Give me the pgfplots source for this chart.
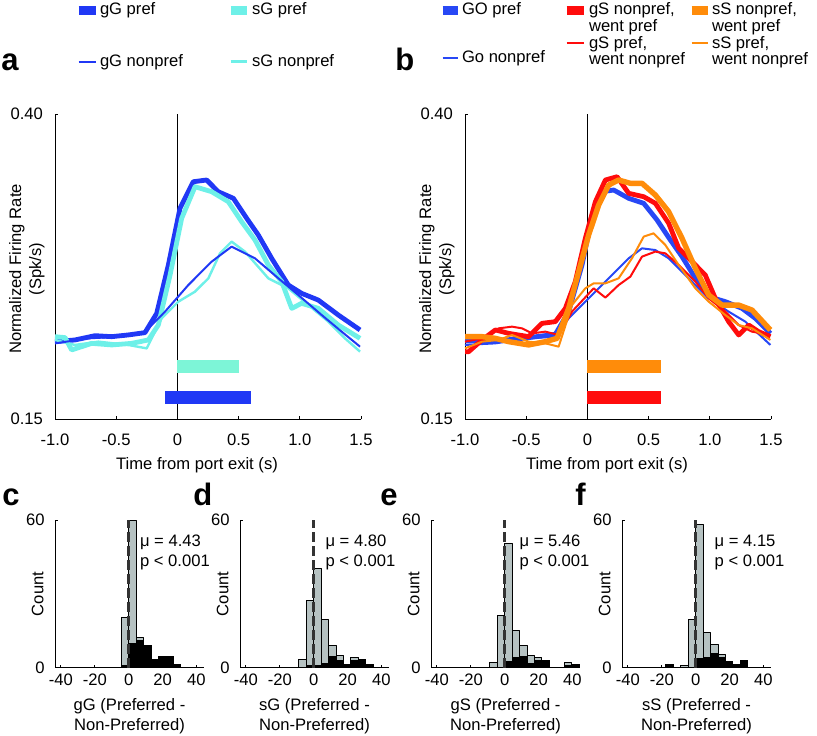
\documentclass[border=0pt]{standalone}
\usepackage{fontspec}
\setmainfont{Liberation Sans}
\usepackage{pgfplots}
\pgfplotsset{compat=1.18}
\definecolor{gblue}{RGB}{32,56,245}
\definecolor{bblue}{RGB}{40,72,245}
\definecolor{scyan}{RGB}{110,240,232}
\definecolor{mint}{RGB}{125,245,215}
\definecolor{sred}{RGB}{255,12,12}
\definecolor{sorange}{RGB}{255,140,10}
\definecolor{hgray}{RGB}{182,194,194}
\newcommand\two[2]{\vtop{\baselineskip=8.2pt\hbox{#1}\hbox{#2}}}
\pgfplotsset{
  base/.style={scale only axis, clip=false, anchor=south west,
    axis x line*=bottom, axis y line*=left, tick align=inside,
    major tick length=1.5pt, axis line style={line width=0.5pt},
    tick style={line width=0.5pt, black}, enlargelimits=false,
    every axis plot/.append style={line join=round}},
  rate/.style={base, width=153pt, height=152.5pt, xmin=-1, xmax=1.5, ymin=0.15, ymax=0.40,
    xtick={-1,-0.5,0,0.5,1,1.5}, xticklabels={-1.0,-0.5,0,0.5,1.0,1.5},
    ytick={0.15,0.40}, yticklabels={0.15,0.40},
    xticklabel style={yshift=-4.5pt}, yticklabel style={xshift=-3.1pt},
    xlabel={Time from port exit (s)},
    xlabel style={at={(axis description cs:0.464,-0.125)}, anchor=north, inner sep=0pt},
    ylabel={Normalized Firing Rate\\(Spk/s)},
    ylabel style={at={(axis description cs:-0.033,0.492)}, anchor=south, inner sep=0pt, align=center}},
  legaxis/.style={scale only axis, anchor=south west, hide axis, width=153pt, height=152.5pt,
    xmin=0, xmax=1, ymin=0, ymax=1,
    legend style={draw=none, fill=none, inner sep=0pt, outer sep=0pt, anchor=north west,
      cells={anchor=base west}, nodes={inner sep=0pt}}},
  hist/.style={base, width=74.5pt, height=73.85pt, xmin=-43.5, xmax=44.5, ymin=0, ymax=60,
    xtick={-40,-20,0,20,40}, xticklabels={-40,-20,0,20,40},
    ytick={0,60}, yticklabels={0,60}, yticklabel style={xshift=-2.2pt},
    xlabel style={at={(axis description cs:0.5,-0.205)}, anchor=north, inner sep=0pt, align=center},
    ylabel={Count},
    ylabel style={at={(axis description cs:-0.074,0.5)}, anchor=south, inner sep=0pt}},
  gbar/.style={ybar interval, fill=hgray, draw=black, line width=0.5pt, forget plot},
  kbar/.style={ybar interval, fill=black, draw=black, line width=0.5pt, forget plot},
  zline/.style={black!80, dash pattern=on 5pt off 2pt, line width=1.3pt, forget plot},
  pref/.style={line width=2.4pt, forget plot},
  npref/.style={line width=1pt, forget plot},
}
\begin{document}
\fontsize{8.3}{10}\selectfont
\begin{tikzpicture}
\useasboundingbox (0,0) rectangle (408.5pt,367.5pt);
% ---------------- panel a legends (two columns)
\begin{axis}[legaxis, at={(27.5pt,158pt)},
  legend image code/.code={\draw[#1] (0pt,2.4pt) -- (8.5pt,2.4pt);},
  legend style={at={(axis description cs:0.0621,1.364)}, row sep=18.5pt,
    /tikz/every odd column/.append style={column sep=0pt}}]
\addlegendimage{gblue, line width=4.5pt}\addlegendentry{gG pref}
\addlegendimage{gblue, line width=1pt}\addlegendentry{gG nonpref}
\end{axis}
\begin{axis}[legaxis, at={(27.5pt,158pt)},
  legend image code/.code={\draw[#1] (0pt,2.4pt) -- (8pt,2.4pt);},
  legend style={at={(axis description cs:0.5588,1.364)}, row sep=18.5pt,
    /tikz/every odd column/.append style={column sep=0.5pt}}]
\addlegendimage{scyan, line width=4.5pt}\addlegendentry{sG pref}
\addlegendimage{scyan, line width=1.2pt}\addlegendentry{sG nonpref}
\end{axis}
% ---------------- panel a
\begin{axis}[rate, at={(27.5pt,158pt)}]
\addplot[black, line width=0.6pt, forget plot] coordinates {(0,0.15) (0,0.40)};
\addplot[gblue, pref] coordinates {
(-1.000,0.2134) (-0.837,0.2148) (-0.673,0.2183) (-0.537,0.2175) (-0.401,0.2189)
(-0.265,0.2208) (-0.169,0.2366) (-0.074,0.2762) (0.021,0.3227) (0.130,0.3445)
(0.239,0.3459) (0.334,0.3363) (0.457,0.3309) (0.566,0.3145) (0.661,0.3008)
(0.770,0.2817) (0.906,0.2598) (1.015,0.2530) (1.151,0.2475) (1.315,0.2352) (1.492,0.2230)};
\addplot[scyan, pref] coordinates {
(-1.000,0.2175) (-0.918,0.2167) (-0.864,0.2066) (-0.700,0.2120) (-0.537,0.2107)
(-0.374,0.2120) (-0.237,0.2148) (-0.156,0.2270) (-0.060,0.2680) (0.035,0.3145)
(0.144,0.3404) (0.280,0.3363) (0.416,0.3281) (0.525,0.3117) (0.634,0.2967)
(0.743,0.2762) (0.852,0.2626) (0.934,0.2407) (1.015,0.2448) (1.151,0.2407)
(1.315,0.2270) (1.492,0.2161)};
\addplot[scyan, npref, line width=1.2pt] coordinates {
(-1.000,0.2148) (-0.837,0.2107) (-0.646,0.2134) (-0.401,0.2107) (-0.251,0.2079)
(-0.129,0.2325) (0.008,0.2462) (0.144,0.2544) (0.253,0.2653) (0.348,0.2858)
(0.443,0.2954) (0.552,0.2872) (0.743,0.2653) (0.906,0.2571) (1.070,0.2434)
(1.233,0.2298) (1.369,0.2161) (1.492,0.2052)};
\addplot[gblue, npref] coordinates {
(-1.000,0.2120) (-0.728,0.2161) (-0.455,0.2175) (-0.265,0.2216) (-0.101,0.2380)
(0.089,0.2598) (0.280,0.2790) (0.443,0.2913) (0.634,0.2817) (0.825,0.2653)
(0.988,0.2516) (1.179,0.2352) (1.342,0.2216) (1.492,0.2093)};
\addplot[mint, line width=6.5pt, forget plot] coordinates {(0,0.1932) (0.5,0.1932)};
\addplot[gblue, line width=6.5pt, forget plot] coordinates {(-0.1,0.168) (0.6,0.168)};
\end{axis}
% ---------------- panel b legends (three columns)
\begin{axis}[legaxis, at={(232.5pt,158pt)},
  legend image code/.code={\draw[#1] (0pt,2.4pt) -- (7.5pt,2.4pt);},
  legend style={at={(axis description cs:-0.0882,1.364)}, row sep=16.5pt,
    /tikz/every odd column/.append style={column sep=0pt}}]
\addlegendimage{bblue, line width=4.5pt}\addlegendentry{GO pref}
\addlegendimage{bblue, line width=1pt}\addlegendentry{Go nonpref}
\end{axis}
\begin{axis}[legaxis, at={(232.5pt,158pt)},
  legend image code/.code={\draw[#1] (0pt,2.4pt) -- (8.5pt,2.4pt);},
  legend style={at={(axis description cs:0.3170,1.364)}, row sep=9.3pt,
    /tikz/every odd column/.append style={column sep=0.5pt}}]
\addlegendimage{sred, line width=4.5pt}\addlegendentry{\two{gS nonpref,}{went pref}}
\addlegendimage{sred, line width=1pt}\addlegendentry{\two{gS pref,}{went nonpref}}
\end{axis}
\begin{axis}[legaxis, at={(232.5pt,158pt)},
  legend image code/.code={\draw[#1] (0pt,2.4pt) -- (8pt,2.4pt);},
  legend style={at={(axis description cs:0.7255,1.364)}, row sep=9.3pt,
    /tikz/every odd column/.append style={column sep=0pt}}]
\addlegendimage{sorange, line width=4.5pt}\addlegendentry{\two{sS nonpref,}{went pref}}
\addlegendimage{sorange, line width=1pt}\addlegendentry{\two{sS pref,}{went nonpref}}
\end{axis}
% ---------------- panel b
\begin{axis}[rate, at={(232.5pt,158pt)}]
\addplot[black, line width=0.6pt, forget plot] coordinates {(0,0.15) (0,0.40)};
\addplot[bblue, pref] coordinates {
(-1.000,0.2139) (-0.752,0.2139) (-0.480,0.2167) (-0.262,0.2194) (-0.153,0.2380)
(-0.044,0.2762) (0.024,0.3090) (0.119,0.3363) (0.215,0.3377) (0.337,0.3309)
(0.460,0.3268) (0.569,0.3131) (0.678,0.2967) (0.773,0.2831) (0.882,0.2653)
(0.991,0.2503) (1.127,0.2462) (1.263,0.2407) (1.372,0.2325) (1.495,0.2202)};
\addplot[bblue, npref] coordinates {
(-1.000,0.2107) (-0.752,0.2120) (-0.480,0.2161) (-0.262,0.2175) (-0.153,0.2325)
(0.010,0.2489) (0.174,0.2653) (0.337,0.2817) (0.446,0.2899) (0.555,0.2885)
(0.664,0.2817) (0.773,0.2708) (0.882,0.2598) (0.991,0.2489) (1.154,0.2380)
(1.290,0.2298) (1.495,0.2107)};
\addplot[sred, pref] coordinates {
(-1.000,0.2052) (-0.970,0.2052) (-0.861,0.2148) (-0.752,0.2230) (-0.643,0.2202)
(-0.480,0.2175) (-0.371,0.2284) (-0.262,0.2298) (-0.180,0.2407) (-0.099,0.2626)
(-0.017,0.2981) (0.065,0.3281) (0.147,0.3459) (0.242,0.3486) (0.337,0.3350)
(0.460,0.3322) (0.555,0.3268) (0.664,0.3104) (0.746,0.2899) (0.855,0.2790)
(0.963,0.2680) (1.045,0.2489) (1.154,0.2298) (1.236,0.2189) (1.318,0.2270)
(1.399,0.2216) (1.495,0.2175)};
\addplot[sred, npref] coordinates {
(-1.000,0.2134) (-0.861,0.2161) (-0.725,0.2243) (-0.616,0.2257) (-0.534,0.2243)
(-0.453,0.2202) (-0.344,0.2216) (-0.235,0.2189) (-0.126,0.2380) (0.051,0.2571)
(0.147,0.2495) (0.255,0.2598) (0.351,0.2667) (0.446,0.2831) (0.555,0.2872)
(0.637,0.2858) (0.746,0.2762) (0.882,0.2626) (0.991,0.2489) (1.127,0.2380)
(1.236,0.2270) (1.345,0.2216) (1.495,0.2189)};
\addplot[sorange, pref, line width=2.7pt] coordinates {
(-1.000,0.2175) (-0.861,0.2175) (-0.752,0.2161) (-0.643,0.2134) (-0.480,0.2107)
(-0.344,0.2134) (-0.248,0.2161) (-0.153,0.2407) (-0.071,0.2708) (0.010,0.3008)
(0.092,0.3254) (0.174,0.3418) (0.255,0.3459) (0.351,0.3432) (0.446,0.3432)
(0.555,0.3336) (0.664,0.3199) (0.773,0.2981) (0.882,0.2735) (0.991,0.2516)
(1.100,0.2434) (1.236,0.2434) (1.345,0.2393) (1.495,0.2230)};
\addplot[sorange, npref] coordinates {
(-1.000,0.2079) (-0.861,0.2134) (-0.725,0.2148) (-0.616,0.2189) (-0.480,0.2134)
(-0.344,0.2120) (-0.235,0.2093) (-0.126,0.2434) (-0.017,0.2571) (0.051,0.2612)
(0.147,0.2612) (0.255,0.2653) (0.364,0.2817) (0.460,0.2995) (0.541,0.3022)
(0.637,0.2926) (0.746,0.2762) (0.882,0.2571) (0.991,0.2462) (1.127,0.2352)
(1.236,0.2270) (1.345,0.2243) (1.495,0.2148)};
\addplot[sorange, line width=6.5pt, forget plot] coordinates {(0,0.193) (0.6,0.193)};
\addplot[sred, line width=6.5pt, forget plot] coordinates {(0,0.168) (0.6,0.168)};
\end{axis}
% ---------------- panel c
\begin{axis}[hist, at={(27.5pt,33.65pt)}, xlabel={gG (Preferred -\\Non-Preferred)}]
\addplot[gbar] coordinates {(-4.4,20.3) (0,59.6) (4.4,12.3) (8.8,9.2) (13.2,3.4) (17.6,4.5) (22,4.5) (26.4,1.5) (30.8,0)};
\addplot[kbar] coordinates {(-4.4,1.0) (0,10) (4.4,11.2) (8.8,9.2) (13.2,3.4) (17.6,4.5) (22,4.5) (26.4,1.5) (30.8,0)};
\addplot[zline] coordinates {(0,0) (0,60)};
\node[anchor=base west, inner sep=0pt] at (axis cs:6.5,49.2) {μ = 4.43};
\node[anchor=base west, inner sep=0pt] at (axis cs:6.5,41.1) {p < 0.001};
\end{axis}
% ---------------- panel d
\begin{axis}[hist, at={(120pt,33.65pt)}, xlabel={sG (Preferred -\\Non-Preferred)}]
\addplot[gbar] coordinates {(-8.8,3.4) (-4.4,27.5) (0,40.4) (4.4,19.6) (8.8,9.2) (13.2,5.1) (17.6,1.5) (22,4.2) (26.4,3.4) (30.8,1.5) (35.2,0)};
\addplot[kbar] coordinates {(-8.8,0) (-4.4,1) (0,1) (4.4,1.8) (8.8,4.5) (13.2,3.1) (17.6,1.5) (22,3.1) (26.4,3.4) (30.8,1.5) (35.2,0)};
\addplot[zline] coordinates {(0,0) (0,60)};
\node[anchor=base west, inner sep=0pt] at (axis cs:6.8,49.2) {μ = 4.80};
\node[anchor=base west, inner sep=0pt] at (axis cs:6.8,41.1) {p < 0.001};
\end{axis}
% ---------------- panel e
\begin{axis}[hist, at={(215.5pt,33.65pt)}, xlabel={gS (Preferred -\\Non-Preferred)}]
\addplot[gbar] coordinates {(-8.8,2.2) (-4.4,21.3) (0,50.5) (4.4,15.0) (8.8,9.2) (13.2,5.1) (17.6,4.3) (22,3.1) (26.4,0) (30.8,0) (35.2,2.2) (39.6,1.5) (44,0)};
\addplot[kbar] coordinates {(-8.8,0) (-4.4,0) (0,2.4) (4.4,4.1) (8.8,4.5) (13.2,1.8) (17.6,2.8) (22,3.1) (26.4,0) (30.8,0) (35.2,1.1) (39.6,1.5) (44,0)};
\addplot[zline] coordinates {(0,0) (0,60)};
\node[anchor=base west, inner sep=0pt] at (axis cs:8.6,49.2) {μ = 5.46};
\node[anchor=base west, inner sep=0pt] at (axis cs:8.6,41.1) {p < 0.001};
\end{axis}
% ---------------- panel f
\begin{axis}[hist, at={(311pt,33.65pt)}, xlabel={sS (Preferred -\\Non-Preferred)}]
\addplot[gbar] coordinates {(-17.6,1.5) (-13.2,0) (-8.8,1.1) (-4.4,19.4) (0,58) (4.4,14.2) (8.8,9.5) (13.2,5.2) (17.6,2.4) (22,1.5) (26.4,3.1) (30.8,0)};
\addplot[kbar] coordinates {(-17.6,1.5) (-13.2,0) (-8.8,0) (-4.4,0) (0,3.8) (4.4,4.1) (8.8,5.6) (13.2,4.2) (17.6,2.4) (22,1.5) (26.4,3.1) (30.8,0)};
\addplot[zline] coordinates {(0,0) (0,60)};
\node[anchor=base west, inner sep=0pt] at (axis cs:11,49.2) {μ = 4.15};
\node[anchor=base west, inner sep=0pt] at (axis cs:11,41.1) {p < 0.001};
\end{axis}
% ---------------- panel letters
\begin{scope}[every node/.style={anchor=base west, inner sep=0pt, font=\fontsize{15.5}{15.5}\selectfont\bfseries}]
\node at (0.5pt,332pt) {a};
\node at (197.5pt,332pt) {b};
\node at (1pt,115pt) {c};
\node at (96.5pt,115pt) {d};
\node at (190pt,115pt) {e};
\node at (287.5pt,115pt) {f};
\end{scope}
\end{tikzpicture}
\end{document}
